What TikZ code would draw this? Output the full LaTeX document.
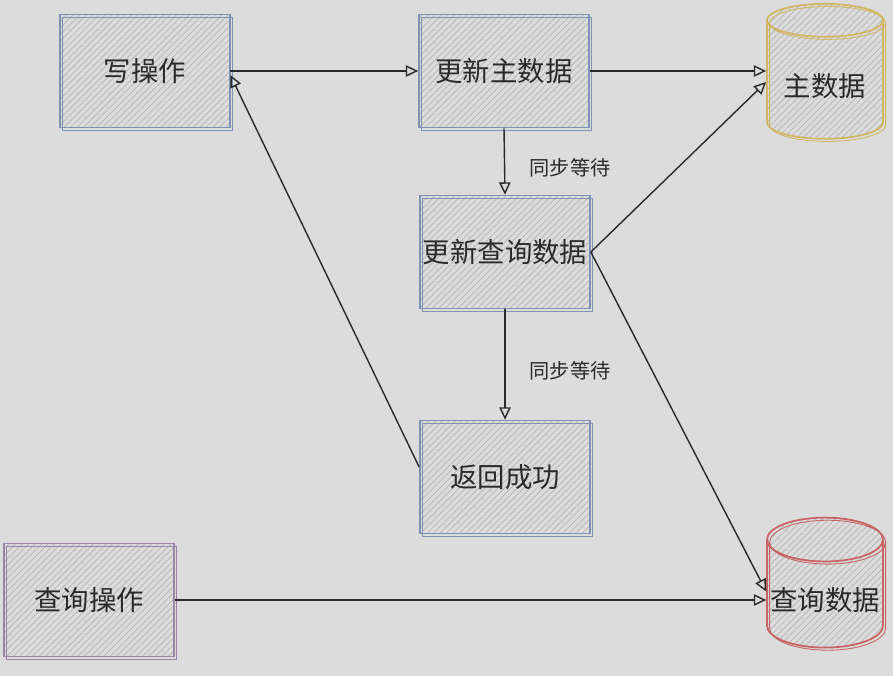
\documentclass[tikz,border=0pt]{standalone}
\usepackage{fontspec}
\setmainfont{Noto Sans CJK SC}
\usetikzlibrary{arrows.meta,patterns.meta,shapes.geometric}
\definecolor{canvas}{HTML}{DCDCDC}
\definecolor{ink}{HTML}{2A2A2A}
\definecolor{hatch}{HTML}{B4B4B4}
\definecolor{steel}{HTML}{7E92B6}
\definecolor{plum}{HTML}{9A84A8}
\definecolor{sand}{HTML}{D2B565}
\definecolor{brick}{HTML}{C86464}
\newcommand{\lowered}[1]{\raisebox{-0.12cm}[\height][\depth]{#1}}

\begin{document}
\begin{tikzpicture}[
      x=0.02cm, y=-0.02cm,
      box/.style={draw, line width=1pt, text=ink, font=\fontsize{15.6}{18}\selectfont,
                  pattern={Lines[angle=45, distance=2.6pt, line width=0.4pt]},
                  pattern color=hatch, inner sep=0pt,
                  minimum width=3.4cm, minimum height=2.26cm,
                  postaction={draw, line width=0.5pt,
                              transform canvas={shift={(1.5pt,-1.5pt)}}}},
      store/.style={box, cylinder, shape border rotate=90, aspect=0.4,
                    minimum width=2.32cm, minimum height=2.7cm},
      link/.style={draw=ink, line width=0.8pt,
                   -{Triangle[open, length=7pt, width=6.5pt, line width=0.8pt]}},
      note/.style={text=ink, font=\fontsize{11.5}{14}\selectfont},
    ]
      \fill[canvas] (0,0) rectangle (893,676);
      \useasboundingbox (0,0) rectangle (893,676);

      \node[box, draw=steel] (write) at (145,71) {写操作};
      \node[box, draw=steel] (upmain) at (504,71) {更新主数据};
      \node[box, draw=steel] (upquery) at (505,252) {更新查询数据};
      \node[box, draw=steel] (done) at (505,477) {返回成功};
      \node[box, draw=plum] (query) at (89,600) {查询操作};
      \node[store, draw=sand] (master) at (825,80) {\lowered{主数据}};
      \node[store, draw=brick, minimum height=2.6cm] (qdata) at (825,594) {\lowered{查询数据}};

      \node[note] (wait1) at (570,168) {同步等待};
      \node[note] (wait2) at (570,371) {同步等待};

      \draw[link] (write.east) -- (upmain.west);
      \draw[link] (upmain.east) -- (upmain.east -| master.west);
      \draw[link] (upmain.south) -- (upquery.north);
      \draw[link] (upquery.east) -- ([yshift=-0.04cm]master.west);
      \draw[link] (upquery.east) -- ([yshift=0.05cm]qdata.west);
      \draw[link] (upquery.south) -- (done.north);
      \draw[link] ([yshift=0.2cm]done.west) -- ([yshift=-0.08cm]write.east);
      \draw[link] (query.east) -- (query.east -| qdata.west);
    \end{tikzpicture}
\end{document}
